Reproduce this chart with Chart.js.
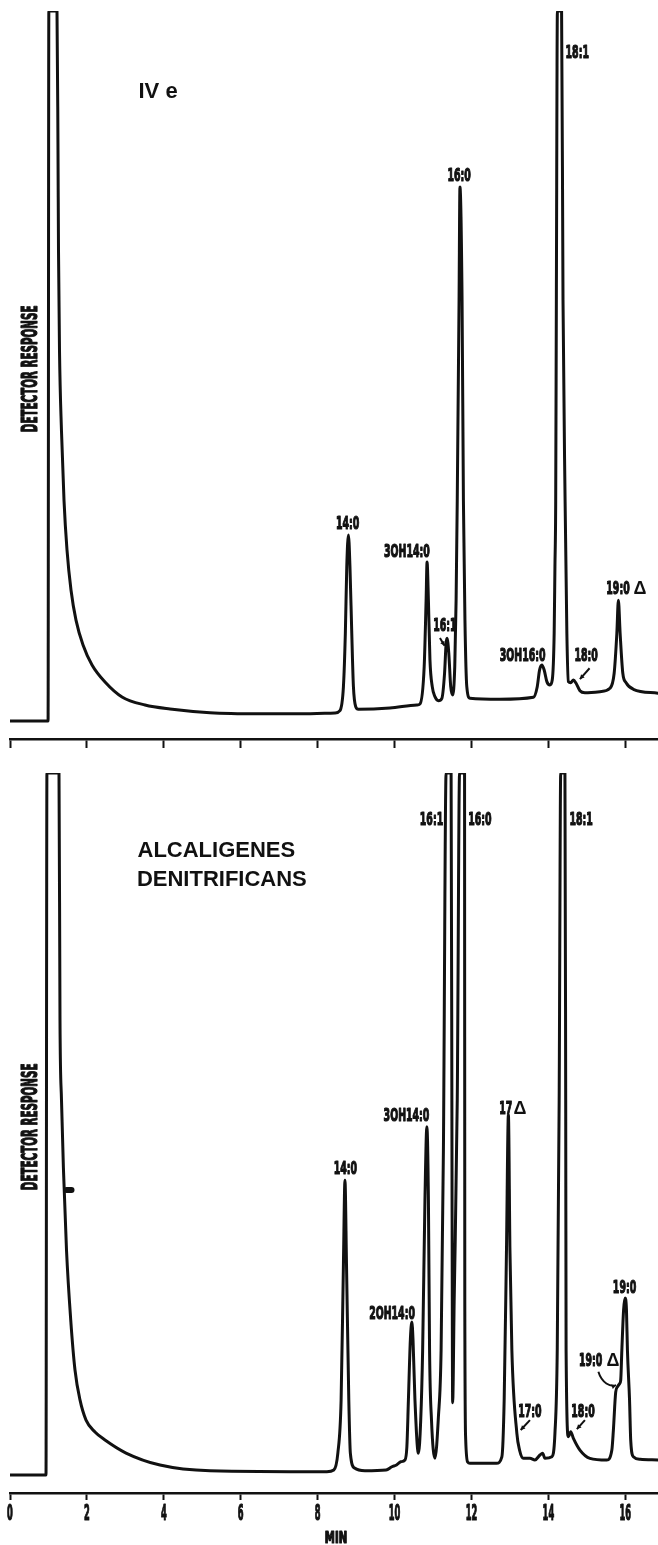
<!DOCTYPE html>
<html>
<head>
<meta charset="utf-8">
<script src="https://cdn.jsdelivr.net/npm/chart.js@4.4.1/dist/chart.umd.min.js"></script>
<style>
  html, body { margin: 0; padding: 0; background: #fff; }
  canvas { display: block; }
</style>
</head>
<body>
<canvas id="topChart" width="658" height="762"></canvas>
<canvas id="bottomChart" width="658" height="783"></canvas>
<script>
// retention time (min) and detector response (% of recorder full scale)
const topTime = [0, 0.99, 1.01, 1.222, 1.248, 1.261, 1.287, 1.339, 1.404, 1.482, 1.586, 1.716, 1.899, 2.133, 2.471, 2.913,
    3.511, 4.161, 5.202, 6.502, 7.542, 8.45,
    8.58, 8.67, 8.72, 8.757, 8.80, 8.84, 8.887, 8.93, 8.99, 9.06, 9.88, 10.58,
    10.66, 10.77, 10.82, 10.845, 10.88, 10.92, 10.98, 11.05, 11.14, 11.23, 11.30, 11.34, 11.365, 11.41, 11.46, 11.51,
    11.565, 11.60, 11.63, 11.677, 11.70, 11.755, 11.79, 11.83, 11.878, 11.96, 12.74, 13.61,
    13.71, 13.77, 13.83, 13.89, 13.96, 14.04, 14.10, 14.15, 14.17, 14.19, 14.207, 14.234, 14.343, 14.38, 14.434,
    14.48, 14.52, 14.58, 14.65, 14.72, 14.82, 14.95, 15.34, 15.60, 15.71, 15.78, 15.82, 15.865, 15.935, 16.02, 16.21, 16.85];
const topResponse = [0, 0, 100, 100, 80.4, 66.3, 52.2, 40.8, 31.1, 24.1, 18.45, 14.2, 10.7, 7.89, 5.49, 3.38,
    2.25, 1.69, 1.17, 1.01, 1.0, 1.13,
    1.45, 4.83, 12.35, 21.7, 26.2, 21.7, 12.35, 4.83, 2.01, 1.65, 1.83, 2.25,
    2.39, 7.65, 17.0, 22.4, 17.0, 8.6, 4.83, 3.42, 2.86, 3.19, 6.72, 10.94, 11.65, 9.53, 4.83, 3.66,
    7.65, 17.0, 31.1, 59.3, 75.2, 59.3, 31.1, 14.2, 4.83, 3.2, 3.06, 3.34,
    4.83, 7.18, 7.9, 7.18, 5.54, 5.07, 5.77, 12.4, 21.7, 31.1, 59.3, 100, 100, 59.3, 31.1,
    12.4, 5.54, 5.39, 5.77, 5.31, 4.27, 3.99, 4.13, 4.6, 6.72, 12.35, 17.0, 12.35, 6.72, 5.39, 4.46, 3.9];

const bottomTime = [0, 0.936, 0.96, 1.274, 1.30, 1.339, 1.391, 1.469, 1.579, 1.69, 1.82, 1.977, 2.21, 2.47, 3.017, 3.90, 5.20, 8.24,
    8.42, 8.525, 8.61, 8.67, 8.71, 8.75, 8.81, 8.85, 8.96, 9.23, 9.78, 9.93, 10.05, 10.16, 10.27,
    10.32, 10.36, 10.41, 10.45, 10.48, 10.53, 10.62, 10.68, 10.73, 10.79, 10.84, 10.88, 10.91, 10.96, 11.05,
    11.14, 11.21, 11.27, 11.34, 11.47, 11.495, 11.51, 11.55, 11.63, 11.69, 11.82, 11.826, 11.85, 11.90, 11.96, 12.65,
    12.79, 12.85, 12.91, 12.96, 13.00, 13.05, 13.18, 13.25, 13.35, 13.52, 13.65, 13.78, 13.85, 13.91, 14.09,
    14.17, 14.23, 14.28, 14.32, 14.43, 14.45, 14.46, 14.52, 14.58, 14.65, 14.82, 15.08, 15.52,
    15.65, 15.69, 15.75, 15.80, 15.85, 15.88, 15.91, 15.955, 15.995, 16.03, 16.055, 16.11, 16.14, 16.21, 16.385, 16.85];
const bottomResponse = [0, 0, 100, 100, 64.8, 53.4, 43.4, 32.05, 22.1, 14.96, 10.7, 7.83, 6.13, 4.99, 3.13, 1.42, 0.61, 0.47,
    0.71, 3.13, 10.7, 30.0, 42.0, 30.0, 10.7, 3.13, 1.0, 0.61, 0.71, 1.18, 1.42, 1.89, 2.14,
    4.03, 10.7, 19.2, 21.8, 19.2, 10.7, 3.09, 7.83, 17.8, 39.2, 49.6, 39.2, 17.8, 7.83, 2.38,
    8.3, 17.8, 46.3, 100, 100, 39.2, 10.3, 24.9, 53.4, 100, 100, 24.9, 5.0, 1.85, 1.67, 1.67,
    2.6, 10.7, 32.05, 51.3, 32.05, 17.8, 5.94, 3.56, 2.38, 2.38, 2.14, 2.85, 3.09, 2.38, 2.6,
    5.94, 17.8, 53.4, 100, 100, 53.4, 17.8, 5.46, 6.17, 5.23, 3.56, 2.38, 2.14,
    3.56, 6.41, 11.8, 12.6, 13.0, 13.5, 17.8, 23.5, 25.2, 23.5, 17.8, 10.7, 5.0, 2.6, 2.24, 2.14];

const minuteTicks = [0, 2, 4, 6, 8, 10, 12, 14, 16];

// peak names, placed at [time, response]
const topPeakNames = ['14:0', '3OH14:0', '16:1', '16:0', '18:1', '3OH16:0', '18:0', '19:0', 'Δ'];
const topPeakAt = [[8.78, 27.96], [10.32, 23.94], [11.31, 13.52], [11.68, 76.97], [14.75, 94.3],
    [13.33, 9.37], [14.98, 9.37], [15.81, 18.8], [16.38, 18.8]];
const bottomPeakNames = ['16:1', '16:0', '18:1', '3OH14:0', '17', 'Δ', '14:0', '2OH14:0', '19:0', '19:0', 'Δ', '17:0', '18:0'];
const bottomPeakAt = [[10.96, 93.5], [12.22, 93.5], [14.85, 93.5], [10.31, 51.3], [12.89, 52.4], [13.26, 52.4],
    [8.72, 43.8], [9.935, 23.2], [15.98, 26.85], [15.10, 16.45], [15.68, 16.45], [13.52, 9.26], [14.90, 9.26]];

// arrows from label to peak: [t0, v0, t1, v1]
const topArrows = [[11.18, 11.7, 11.30, 10.6], [15.07, 7.42, 14.82, 5.9]];
const bottomArrows = [[13.52, 7.83, 13.28, 6.41], [14.95, 7.83, 14.74, 6.55]];
const bottomCurvedArrow = [[15.30, 14.7], [15.39, 13.1], [15.61, 12.5], [15.76, 12.8]];
// pen blot on the solvent tail of the lower trace: [t0, t1, v]
const bottomBlot = [1.47, 1.60, 40.6];

const CONDENSED = '"DejaVu Sans Condensed", "DejaVu Sans", sans-serif';
const HELV = '"Liberation Sans", Arial, sans-serif';

function squeezedText(ctx, text, x, y, size, squeeze, rotate) {
    ctx.save();
    ctx.font = `bold ${size}px ${CONDENSED}`;
    ctx.textAlign = 'center';
    ctx.textBaseline = 'alphabetic';
    ctx.translate(x, y);
    if (rotate) ctx.rotate(-Math.PI / 2);
    ctx.scale(squeeze, 1);
    ctx.lineWidth = 1.2;
    ctx.lineJoin = 'round';
    ctx.strokeText(text, 0, size * 0.36);
    ctx.fillText(text, 0, size * 0.36);
    ctx.restore();
}

function arrowHead(ctx, x0, y0, x1, y1) {
    const a = Math.atan2(y1 - y0, x1 - x0);
    const s = 5;
    ctx.beginPath();
    ctx.moveTo(x1, y1);
    ctx.lineTo(x1 - s * Math.cos(a - 0.5), y1 - s * Math.sin(a - 0.5));
    ctx.lineTo(x1 - s * Math.cos(a + 0.5), y1 - s * Math.sin(a + 0.5));
    ctx.closePath();
    ctx.fill();
}

function notesPlugin(notes) {
    return {
        id: 'notes',
        afterDraw(chart) {
            const { ctx } = chart;
            const x = chart.scales.x;
            const y = chart.scales.y;
            ctx.save();
            ctx.fillStyle = '#111';
            ctx.strokeStyle = '#111';

            notes.names.forEach((name, i) => {
                const px = x.getPixelForValue(notes.at[i][0]);
                const py = y.getPixelForValue(notes.at[i][1]);
                if (name === 'Δ') {
                    ctx.font = `bold 18px ${HELV}`;
                    ctx.textAlign = 'center';
                    ctx.textBaseline = 'alphabetic';
                    ctx.fillText(name, px, py + 6.5);
                } else {
                    squeezedText(ctx, name, px, py, 18, 0.58);
                }
            });

            ctx.lineWidth = 2;
            notes.arrows.forEach(a => {
                const x0 = x.getPixelForValue(a[0]), y0 = y.getPixelForValue(a[1]);
                const x1 = x.getPixelForValue(a[2]), y1 = y.getPixelForValue(a[3]);
                ctx.beginPath();
                ctx.moveTo(x0, y0);
                ctx.lineTo(x1, y1);
                ctx.stroke();
                arrowHead(ctx, x0, y0, x1, y1);
            });

            if (notes.curved) {
                const pts = notes.curved.map(p => [x.getPixelForValue(p[0]), y.getPixelForValue(p[1])]);
                ctx.beginPath();
                ctx.moveTo(pts[0][0], pts[0][1]);
                ctx.bezierCurveTo(pts[1][0], pts[1][1], pts[2][0], pts[2][1], pts[3][0], pts[3][1]);
                ctx.stroke();
                arrowHead(ctx, pts[2][0], pts[2][1], pts[3][0], pts[3][1]);
            }

            if (notes.blot) {
                ctx.lineWidth = 6;
                ctx.lineCap = 'round';
                ctx.beginPath();
                ctx.moveTo(x.getPixelForValue(notes.blot[0]), y.getPixelForValue(notes.blot[2]));
                ctx.lineTo(x.getPixelForValue(notes.blot[1]), y.getPixelForValue(notes.blot[2]));
                ctx.stroke();
            }

            // sample name
            ctx.font = `bold 22px ${HELV}`;
            ctx.textBaseline = 'middle';
            ctx.textAlign = notes.titleAlign;
            notes.title.forEach((line, i) => {
                ctx.fillText(line, x.getPixelForValue(notes.titleAt[i][0]), y.getPixelForValue(notes.titleAt[i][1]));
            });

            // y axis title sits inside the plot, next to the solvent front
            squeezedText(ctx, 'DETECTOR RESPONSE', x.getPixelForValue(0.5), y.getPixelForValue(49.6), 20.5, 0.56, true);

            if (notes.tickLabels) {
                const base = chart.chartArea.bottom;
                x.ticks.forEach(t => {
                    squeezedText(ctx, String(t.value), x.getPixelForValue(t.value), base + 19.5, 20.5, 0.45);
                });
                squeezedText(ctx, 'MIN', (x.left + x.right) / 2 + 2, base + 44.5, 15, 0.75);
            }
            ctx.restore();
        }
    };
}

function makeChart(id, time, response, yMin, axisHeight, notes) {
    const ctx = document.getElementById(id).getContext('2d');
    return new Chart(ctx, {
        type: 'line',
        data: {
            datasets: [{
                data: time.map((t, i) => ({ x: t, y: response[i] })),
                borderColor: '#111',
                borderWidth: 3,
                pointRadius: 0,
                fill: false,
                cubicInterpolationMode: 'monotone',
                borderJoinStyle: 'round',
                borderCapStyle: 'round'
            }]
        },
        options: {
            responsive: false,
            animation: false,
            layout: { padding: { top: 11, left: 10, right: 0, bottom: 0 }, autoPadding: false },
            plugins: { legend: { display: false }, tooltip: { enabled: false } },
            scales: {
                x: {
                    type: 'linear',
                    min: 0,
                    max: 16.85,
                    afterBuildTicks: scale => { scale.ticks = minuteTicks.map(v => ({ value: v })); },
                    afterFit: scale => { scale.height = axisHeight; },
                    ticks: { display: false },
                    border: { display: true, color: '#111', width: 2.5 },
                    grid: {
                        display: true,
                        drawOnChartArea: false,
                        drawTicks: true,
                        tickLength: notes.tickLabels ? 7 : 9,
                        tickWidth: 2,
                        tickColor: '#111'
                    }
                },
                y: { type: 'linear', min: yMin, max: 100, display: false }
            }
        },
        plugins: [notesPlugin(notes)]
    });
}

makeChart('topChart', topTime, topResponse, -2.54, 23, {
    names: topPeakNames,
    at: topPeakAt,
    arrows: topArrows,
    title: ['IV e'],
    titleAt: [[3.85, 88.6]],
    titleAlign: 'center',
    tickLabels: false
});

makeChart('bottomChart', bottomTime, bottomResponse, -2.56, 52, {
    names: bottomPeakNames,
    at: bottomPeakAt,
    arrows: bottomArrows,
    curved: bottomCurvedArrow,
    blot: bottomBlot,
    title: ['ALCALIGENES', 'DENITRIFICANS'],
    titleAt: [[3.316, 88.96], [3.30, 84.83]],
    titleAlign: 'left',
    tickLabels: true
});
</script>
</body>
</html>
